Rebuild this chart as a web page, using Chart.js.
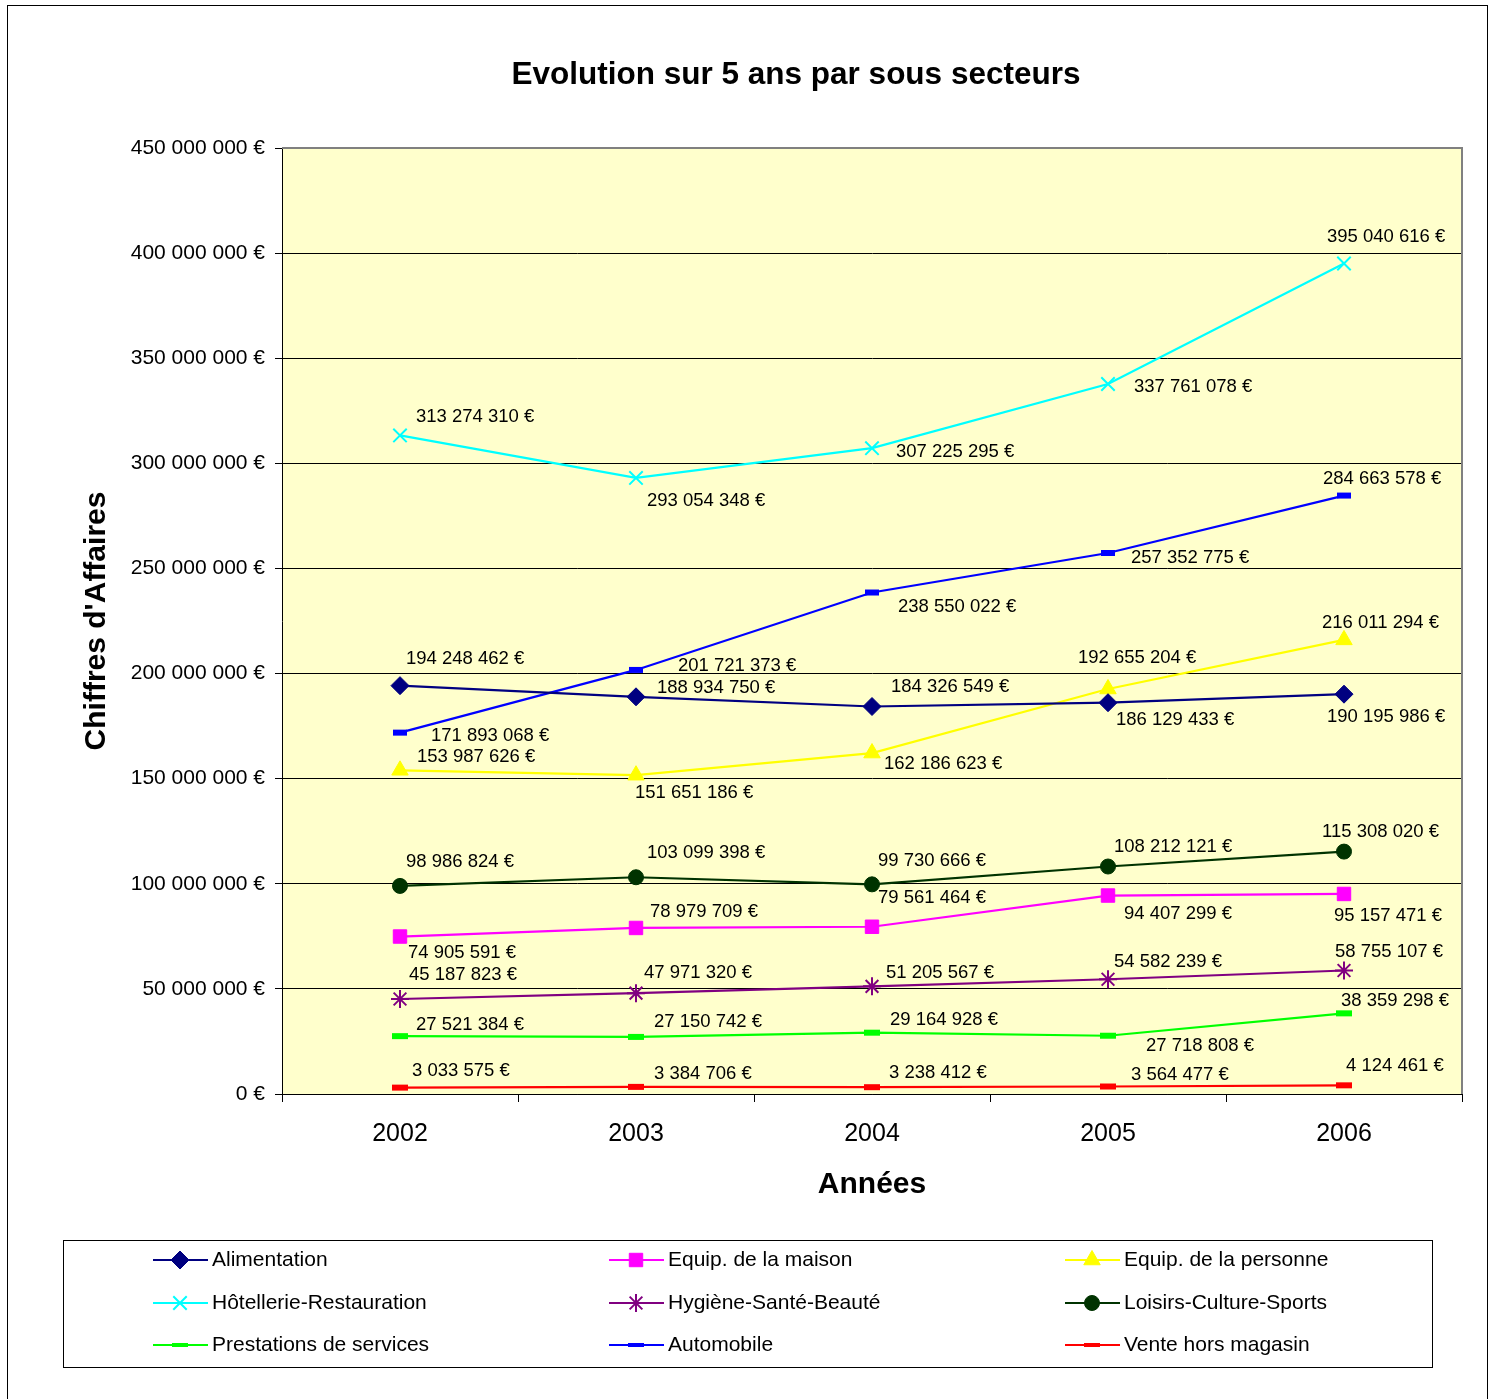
<!DOCTYPE html>
<html>
<head>
<meta charset="utf-8">
<script src="https://cdn.jsdelivr.net/npm/chart.js@4.4.1/dist/chart.umd.min.js"></script>
<style>
  body { margin: 0; background: #fff; }
  canvas { display: block; }
</style>
</head>
<body>
<canvas id="chart" width="1494" height="1399"></canvas>
<script>
// years on the x axis
const annees = ['2002', '2003', '2004', '2005', '2006'];

// chiffre d'affaires per sub-sector (euros)
const alimentation = [194248462, 188934750, 184326549, 186129433, 190195986];
const equipMaison = [74905591, 78979709, 79561464, 94407299, 95157471];
const equipPersonne = [153987626, 151651186, 162186623, 192655204, 216011294];
const hotellerie = [313274310, 293054348, 307225295, 337761078, 395040616];
const hygiene = [45187823, 47971320, 51205567, 54582239, 58755107];
const loisirs = [98986824, 103099398, 99730666, 108212121, 115308020];
const prestations = [27521384, 27150742, 29164928, 27718808, 38359298];
const automobile = [171893068, 201721373, 238550022, 257352775, 284663578];
const venteHorsMagasin = [3033575, 3384706, 3238412, 3564477, 4124461];

// y axis range
const yMin = 0, yMax = 450000000, yStep = 50000000;

// where each value label sits relative to its point (left edge dx, middle dy)
const labelOffsets = [
  [[6, -27], [21, -9], [19, -20], [8, 17], [-17, 23]],
  [[8, 16], [14, -16], [6, -29], [16, 18], [-10, 22]],
  [[17, -13], [-1, 18], [12, 11], [-30, -31], [-22, -17]],
  [[16, -19], [11, 23], [24, 4], [26, 3], [-17, -27]],
  [[9, -24], [8, -20], [14, -13], [6, -17], [-9, -19]],
  [[6, -24], [11, -24], [6, -23], [6, -20], [-22, -20]],
  [[16, -11], [18, -15], [18, -13], [38, 10], [-3, -12]],
  [[31, 3], [42, -4], [26, 14], [23, 5], [-21, -17]],
  [[12, -17], [18, -13], [17, -14], [23, -12], [2, -19]]
];

const FONT = "Arial, 'Liberation Sans', sans-serif";

function euros(v) {
  return String(Math.round(v)).replace(/\B(?=(\d{3})+(?!\d))/g, ' ') + ' €';
}

function serie(label, data, color, style, radius, bw) {
  return {
    label: label,
    data: data,
    borderColor: color,
    backgroundColor: color,
    pointBackgroundColor: color,
    pointBorderColor: color,
    pointStyle: style,
    pointRadius: radius,
    pointHoverRadius: radius,
    pointBorderWidth: bw,
    borderWidth: 2.2,
    tension: 0,
    fill: false
  };
}

const datasets = [
  serie('Alimentation', alimentation, '#000080', 'rectRot', 9, 1),
  serie('Equip. de la maison', equipMaison, '#FF00FF', 'rect', 9.5, 1),
  serie('Equip. de la personne', equipPersonne, '#FFFF00', 'triangle', 9.5, 1),
  serie('Hôtellerie-Restauration', hotellerie, '#00FFFF', 'crossRot', 9.5, 2),
  serie('Hygiène-Santé-Beauté', hygiene, '#800080', 'star', 9, 2),
  serie('Loisirs-Culture-Sports', loisirs, '#003300', 'circle', 7.5, 1),
  serie('Prestations de services', prestations, '#00FF00', 'line', 8, 6),
  serie('Automobile', automobile, '#0000FF', 'line', 7, 6),
  serie('Vente hors magasin', venteHorsMagasin, '#FF0000', 'line', 8, 6)
];

// yellow plot area, frames, title, value labels and boxed legend
const decor = {
  id: 'decor',
  beforeDraw(chart) {
    const { ctx, chartArea: a } = chart;
    ctx.save();
    ctx.fillStyle = '#fff';
    ctx.fillRect(0, 0, chart.width, chart.height);
    ctx.fillStyle = '#FFFFCC';
    ctx.fillRect(a.left, a.top, a.right - a.left, a.bottom - a.top);
    ctx.restore();
  },
  afterDatasetsDraw(chart) {
    const { ctx, chartArea: a } = chart;
    ctx.save();
    // grey plot border top and right
    ctx.strokeStyle = '#808080';
    ctx.lineWidth = 2;
    ctx.beginPath();
    ctx.moveTo(a.left, a.top);
    ctx.lineTo(a.right, a.top);
    ctx.lineTo(a.right, a.bottom);
    ctx.stroke();

    // value labels
    ctx.fillStyle = '#000';
    ctx.font = '18.5px ' + FONT;
    ctx.textAlign = 'left';
    ctx.textBaseline = 'middle';
    chart.data.datasets.forEach((ds, i) => {
      const meta = chart.getDatasetMeta(i);
      meta.data.forEach((pt, j) => {
        const off = labelOffsets[i][j];
        ctx.fillText(euros(ds.data[j]), pt.x + off[0], pt.y + off[1]);
      });
    });

    // outer frame
    ctx.strokeStyle = '#000';
    ctx.lineWidth = 1;
    ctx.strokeRect(7.5, 5.5, 1480, 1400);

    // title
    ctx.font = 'bold 31.5px ' + FONT;
    ctx.textAlign = 'center';
    ctx.fillText('Evolution sur 5 ans par sous secteurs', 796, 75);

    // legend box
    ctx.strokeRect(63.5, 1240.5, 1369, 127);
    const cols = [153, 609, 1065];
    const rows = [1260, 1303, 1345];
    ctx.font = '21px ' + FONT;
    ctx.textAlign = 'left';
    chart.data.datasets.forEach((ds, i) => {
      const x = cols[i % 3];
      const y = rows[Math.floor(i / 3)];
      ctx.strokeStyle = ds.borderColor;
      ctx.lineWidth = 2.2;
      ctx.beginPath();
      ctx.moveTo(x, y);
      ctx.lineTo(x + 55, y);
      ctx.stroke();
      ctx.fillStyle = ds.pointBackgroundColor;
      ctx.strokeStyle = ds.pointBorderColor;
      ctx.lineWidth = ds.pointStyle === 'line' ? 4 : ds.pointBorderWidth;
      const r = ds.pointStyle === 'line' ? 8 : ds.pointRadius;
      Chart.helpers.drawPoint(ctx, { pointStyle: ds.pointStyle, radius: r, borderWidth: ctx.lineWidth, rotation: 0 }, x + 27, y);
      ctx.fillStyle = '#000';
      ctx.fillText(ds.label, x + 59, y);
    });
    ctx.restore();
  }
};

new Chart(document.getElementById('chart'), {
  type: 'line',
  data: { labels: annees, datasets: datasets },
  plugins: [decor],
  options: {
    responsive: false,
    animation: false,
    layout: { padding: { top: 148, right: 32, left: 0, bottom: 0 } },
    plugins: {
      legend: { display: false },
      title: { display: false },
      tooltip: { enabled: false }
    },
    scales: {
      x: {
        offset: true,
        afterFit: s => { s.height = 305; },
        grid: { offset: true, drawOnChartArea: false, tickLength: 8, color: '#000' },
        border: { color: '#000', width: 1 },
        ticks: { color: '#000', font: { family: FONT, size: 25 }, padding: 17 },
        title: {
          display: true, text: 'Années', color: '#000',
          font: { family: FONT, size: 30, weight: 'bold' },
          padding: { top: 0, bottom: 196 }
        }
      },
      y: {
        min: yMin, max: yMax,
        afterFit: s => { s.width = 282; },
        grid: { color: '#000', lineWidth: 1, tickLength: 7 },
        border: { color: '#000', width: 1 },
        ticks: {
          stepSize: yStep, color: '#000', padding: 10,
          font: { family: FONT, size: 21 },
          callback: v => euros(v)
        },
        title: {
          display: true, text: "Chiffres d'Affaires", color: '#000',
          font: { family: FONT, size: 30, weight: 'bold' },
          padding: { top: 79, bottom: 0 }
        }
      }
    }
  }
});
</script>
</body>
</html>
